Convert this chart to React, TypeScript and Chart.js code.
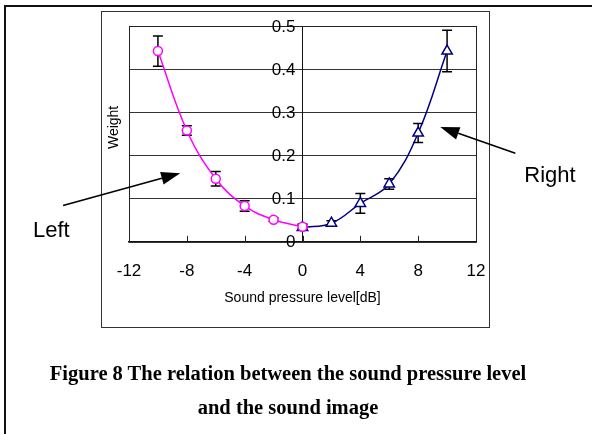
import React, { useEffect, useRef } from "react";
import { Chart, registerables } from "chart.js";

Chart.register(...registerables);

// ---- data ----
const leftX = [-10, -8, -6, -4, -2, 0];
const leftY = [0.442, 0.258, 0.146, 0.083, 0.051, 0.035];
const leftErr = [0.035, 0.011, 0.017, 0.012, 0.004, 0.006];

const rightX = [0, 2, 4, 6, 8, 10];
const rightY = [0.033, 0.043, 0.089, 0.134, 0.252, 0.442];
const rightErr = [0.006, 0.006, 0.023, 0.012, 0.022, 0.048];

const xTitle = "Sound pressure level[dB]";
const yTitle = "Weight";
const captionLines = [
  "Figure 8 The relation between the sound pressure level",
  "and the sound image",
];

// annotation anchors (data units)
const leftArrow = { from: [-16.56, 0.084], to: [-8.46, 0.159], label: "Left", labelAt: [-18.64, 0.0116] };
const rightArrow = { from: [14.72, 0.205], to: [9.53, 0.266], label: "Right", labelAt: [15.34, 0.1395] };

const SANS = "'Liberation Sans', Arial, sans-serif";

function drawArrow(ctx: CanvasRenderingContext2D, x1: number, y1: number, x2: number, y2: number) {
  const ang = Math.atan2(y2 - y1, x2 - x1);
  const len = 19;
  const hw = 6.5;
  const bx = x2 - len * Math.cos(ang);
  const by = y2 - len * Math.sin(ang);
  ctx.beginPath();
  ctx.moveTo(x1, y1);
  ctx.lineTo(bx, by);
  ctx.lineWidth = 1.6;
  ctx.strokeStyle = "#000";
  ctx.stroke();
  ctx.beginPath();
  ctx.moveTo(x2, y2);
  ctx.lineTo(bx + hw * Math.sin(ang), by - hw * Math.cos(ang));
  ctx.lineTo(bx - hw * Math.sin(ang), by + hw * Math.cos(ang));
  ctx.closePath();
  ctx.fillStyle = "#000";
  ctx.fill();
}

const extrasPlugin = {
  id: "extras",
  beforeDatasetsDraw(chart: any) {
    const { ctx, chartArea: a, scales } = chart;
    const x = scales.x;
    const y = scales.y;
    ctx.save();
    // plot frame
    ctx.strokeStyle = "#222";
    ctx.lineWidth = 1;
    ctx.strokeRect(a.left + 0.5, a.top + 0.5, a.right - a.left, a.bottom - a.top);
    // inward x tick marks
    ctx.beginPath();
    x.ticks.forEach((t: any) => {
      const px = Math.round(x.getPixelForValue(t.value)) + 0.5;
      ctx.moveTo(px, a.bottom);
      ctx.lineTo(px, a.bottom - 6);
    });
    ctx.stroke();
    // error bars
    ctx.strokeStyle = "#000";
    ctx.lineWidth = 1.5;
    const cap = 5;
    const series: [number[], number[], number[]][] = [
      [leftX, leftY, leftErr],
      [rightX, rightY, rightErr],
    ];
    series.forEach(([xs, ys, es]) => {
      xs.forEach((xv, i) => {
        const px = x.getPixelForValue(xv);
        const top = y.getPixelForValue(ys[i] + es[i]);
        const bot = y.getPixelForValue(ys[i] - es[i]);
        ctx.beginPath();
        ctx.moveTo(px, top);
        ctx.lineTo(px, bot);
        ctx.moveTo(px - cap, top);
        ctx.lineTo(px + cap, top);
        ctx.moveTo(px - cap, bot);
        ctx.lineTo(px + cap, bot);
        ctx.stroke();
      });
    });
    ctx.restore();
  },
  afterDraw(chart: any) {
    const { ctx, chartArea: a, scales } = chart;
    const x = scales.x;
    const y = scales.y;

    // y tick labels, right-aligned just left of the centred axis
    ctx.save();
    ctx.font = `17px ${SANS}`;
    ctx.fillStyle = "#000";
    ctx.textAlign = "right";
    ctx.textBaseline = "middle";
    const axisX = x.getPixelForValue(0);
    y.ticks.forEach((t: any) => {
      ctx.fillText(String(t.label), axisX - 7, y.getPixelForValue(t.value) + 1);
    });
    ctx.restore();

    ctx.save();
    // y title
    ctx.translate(a.left - 15, y.getPixelForValue(0.265));
    ctx.rotate(-Math.PI / 2);
    ctx.font = `14px ${SANS}`;
    ctx.fillStyle = "#000";
    ctx.textAlign = "center";
    ctx.textBaseline = "middle";
    ctx.fillText(yTitle, 0, 0);
    ctx.restore();

    ctx.save();
    [leftArrow, rightArrow].forEach((ar) => {
      drawArrow(
        ctx,
        x.getPixelForValue(ar.from[0]),
        y.getPixelForValue(ar.from[1]),
        x.getPixelForValue(ar.to[0]),
        y.getPixelForValue(ar.to[1])
      );
      ctx.font = `22px ${SANS}`;
      ctx.fillStyle = "#000";
      ctx.textAlign = "left";
      ctx.textBaseline = "alphabetic";
      ctx.fillText(ar.label, x.getPixelForValue(ar.labelAt[0]), y.getPixelForValue(ar.labelAt[1]));
    });
    ctx.restore();
  },
};

export default function App() {
  const ref = useRef<HTMLCanvasElement>(null);

  useEffect(() => {
    if (!ref.current) return;
    const chart = new Chart(ref.current, {
      type: "line",
      data: {
        datasets: [
          {
            label: "Left",
            data: leftX.map((v, i) => ({ x: v, y: leftY[i] })),
            borderColor: "#ff00ff",
            backgroundColor: "#ffffff",
            borderWidth: 1.5,
            pointStyle: "circle",
            pointRadius: 4.5,
            pointBorderWidth: 1.5,
            pointBackgroundColor: "#ffffff",
            pointBorderColor: "#ff00ff",
            tension: 0.4,
            fill: false,
          },
          {
            label: "Right",
            data: rightX.map((v, i) => ({ x: v, y: rightY[i] })),
            borderColor: "#000080",
            backgroundColor: "#ffffff",
            borderWidth: 1.5,
            pointStyle: "triangle",
            pointRadius: 6,
            pointBorderWidth: 1.5,
            pointBackgroundColor: "#ffffff",
            pointBorderColor: "#000080",
            tension: 0.4,
            fill: false,
          },
        ],
      },
      options: {
        animation: false,
        responsive: false,
        devicePixelRatio: 1,
        layout: { padding: { left: 129, right: 116, top: 26, bottom: 127 } },
        plugins: { legend: { display: false }, tooltip: { enabled: false } },
        scales: {
          x: {
            type: "linear",
            min: -12,
            max: 12,
            ticks: { stepSize: 4, color: "#000", font: { size: 17, family: SANS }, padding: 19 },
            grid: { display: false, drawTicks: false },
            border: { display: true, color: "#111", width: 1.5 },
            title: {
              display: true,
              text: xTitle,
              color: "#000",
              font: { size: 14, family: SANS },
              padding: { top: -10, bottom: 0 },
            },
          },
          y: {
            type: "linear",
            position: { x: 0 } as any,
            min: 0,
            max: 0.5,
            ticks: { stepSize: 0.1, display: false },
            grid: { color: "#333", lineWidth: 1, drawTicks: false },
            border: { display: true, color: "#111", width: 1 },
          },
        },
      },
      plugins: [extrasPlugin],
    });
    return () => chart.destroy();
  }, []);

  return (
    <div style={{ position: "absolute", left: 0, top: 0, width: 592, height: 434, background: "#fff", overflow: "hidden" }}>
      <div style={{ position: "absolute", left: 4, top: 5, width: 600, height: 440, borderLeft: "2px solid #111", borderTop: "2px solid #111" }} />
      <div style={{ position: "absolute", left: 101, top: 11, width: 387, height: 315, border: "1px solid #333" }} />
      <canvas ref={ref} width={592} height={434} style={{ position: "absolute", left: 0, top: 0, width: 592, height: 434 }} />
      <div
        style={{
          position: "absolute",
          left: 0,
          width: 576,
          top: 356,
          textAlign: "center",
          fontFamily: "'Liberation Serif', 'Times New Roman', serif",
          fontWeight: "bold",
          fontSize: 20.5,
          lineHeight: "34px",
          color: "#000",
        }}
      >
        {captionLines.map((l, i) => (
          <div key={i}>{l}</div>
        ))}
      </div>
    </div>
  );
}
